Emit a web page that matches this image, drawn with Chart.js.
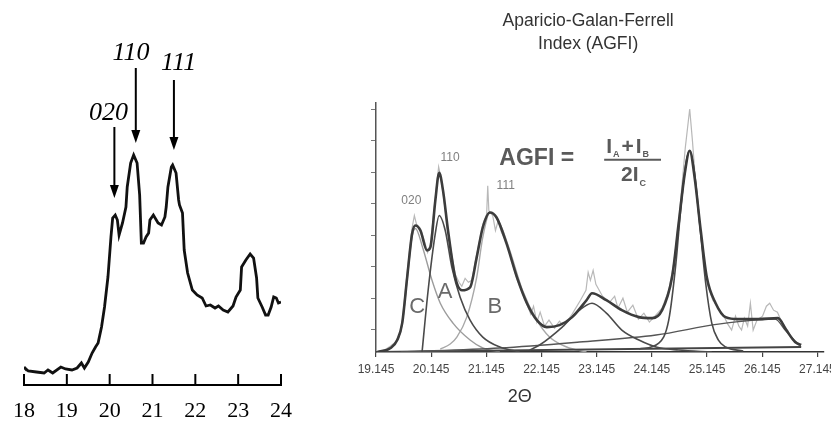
<!DOCTYPE html>
<html>
<head>
<meta charset="utf-8">
<script src="https://cdn.jsdelivr.net/npm/chart.js@4.4.0/dist/chart.umd.min.js"></script>
<style>
  html, body { margin: 0; padding: 0; background: #fff; }
  body { width: 831px; height: 423px; position: relative; overflow: hidden; }
  #leftChart { position: absolute; left: 0; top: 0; }
  #rightChart { position: absolute; left: 330px; top: 0; }
</style>
</head>
<body>
<canvas id="leftChart" width="320" height="423"></canvas>
<canvas id="rightChart" width="511" height="423"></canvas>
<script>
// ---- left pattern (2 theta, intensity in arbitrary units) ----
const leftTicks = [18, 19, 20, 21, 22, 23, 24];
const leftPattern = [
  [18.00, 18], [18.02, 17], [18.10, 14], [18.29, 13], [18.47, 12], [18.56, 15], [18.67, 12],
  [18.86, 18], [18.97, 16], [19.12, 15], [19.24, 17], [19.34, 22], [19.41, 17], [19.50, 23],
  [19.59, 32], [19.67, 38], [19.73, 42], [19.81, 58], [19.88, 78], [19.96, 108], [20.03, 148],
  [20.07, 167], [20.13, 170], [20.18, 165], [20.22, 150], [20.30, 162], [20.38, 178], [20.41, 198],
  [20.49, 222], [20.56, 230], [20.64, 222], [20.70, 190], [20.74, 142], [20.79, 142], [20.85, 148],
  [20.91, 152], [20.94, 165], [21.02, 170], [21.13, 162], [21.21, 160], [21.29, 168], [21.32, 178],
  [21.36, 198], [21.44, 218], [21.47, 220], [21.55, 212], [21.61, 185], [21.63, 180], [21.70, 172],
  [21.74, 135], [21.82, 112], [21.93, 95], [22.04, 90], [22.16, 87], [22.25, 79], [22.35, 80],
  [22.46, 77], [22.54, 79], [22.65, 75], [22.76, 73], [22.88, 79], [22.95, 88], [23.05, 95],
  [23.08, 118], [23.18, 125], [23.28, 131], [23.36, 127], [23.43, 107], [23.46, 87], [23.56, 78],
  [23.64, 70], [23.70, 70], [23.77, 78], [23.83, 88], [23.89, 87], [23.94, 82], [24.00, 83]
];
const leftPeaks = ['020', '110', '111'];
const leftArrowX = [20.11, 20.61, 21.50];
const leftArrowTop = [258, 317, 305];
const leftArrowTip = [187, 242, 235];
const leftLabelX = [19.97, 20.50, 21.61];
const leftLabelY = [272, 332, 322];

// ---- right pattern: raw scan, fitted total and the fitted components ----
const rightTicks = [19.145, 20.145, 21.145, 22.145, 23.145, 24.145, 25.145, 26.145, 27.145];
const rightYTicks = [23, 54, 86, 117, 149, 180, 212, 243];
const rawScan = [
  [19.17, 0], [19.30, 2], [19.41, 6], [19.50, 10], [19.56, 15], [19.62, 30], [19.71, 80], [19.80, 125],
  [19.84, 137], [19.88, 128], [19.95, 124], [20.03, 110], [20.08, 100], [20.13, 108], [20.22, 155],
  [20.28, 186], [20.31, 178], [20.36, 160], [20.45, 120], [20.58, 78], [20.65, 70], [20.70, 66],
  [20.76, 74], [20.82, 70], [20.88, 72], [20.97, 98], [21.08, 128], [21.15, 138], [21.17, 167],
  [21.19, 142], [21.26, 137], [21.31, 122], [21.36, 132], [21.42, 120], [21.51, 110], [21.70, 73],
  [21.88, 48], [21.95, 38], [22.00, 46], [22.06, 30], [22.12, 40], [22.20, 26], [22.28, 32],
  [22.38, 24], [22.47, 31], [22.55, 26], [22.70, 38], [22.85, 52], [22.95, 62], [22.99, 80],
  [23.03, 72], [23.08, 82], [23.13, 68], [23.25, 56], [23.38, 50], [23.47, 56], [23.53, 44],
  [23.62, 54], [23.70, 40], [23.80, 47], [23.90, 33], [24.00, 39], [24.10, 30], [24.20, 36],
  [24.33, 44], [24.45, 62], [24.55, 92], [24.65, 142], [24.75, 205], [24.83, 244], [24.88, 212],
  [24.95, 160], [25.05, 108], [25.15, 68], [25.25, 52], [25.35, 44], [25.45, 36], [25.52, 28],
  [25.59, 22], [25.66, 36], [25.72, 26], [25.77, 22], [25.82, 34], [25.88, 26], [25.93, 49],
  [25.98, 22], [26.05, 32], [26.15, 36], [26.22, 46], [26.28, 49], [26.35, 42], [26.42, 40],
  [26.50, 30], [26.60, 22], [26.70, 12], [26.80, 7], [26.85, 5]
];
const fitTotal = [
  [19.17, 0], [19.41, 4], [19.53, 12], [19.62, 29], [19.71, 75], [19.80, 119], [19.86, 127],
  [19.95, 122], [20.07, 102], [20.13, 105], [20.22, 152], [20.29, 180], [20.36, 162], [20.45, 122],
  [20.58, 75], [20.70, 62], [20.85, 65], [20.97, 95], [21.08, 125], [21.21, 140], [21.33, 135],
  [21.51, 109], [21.70, 75], [21.88, 49], [22.06, 32], [22.24, 25], [22.47, 27], [22.70, 35],
  [22.96, 52], [23.06, 59], [23.32, 52], [23.60, 42], [23.91, 35], [24.15, 34], [24.33, 42],
  [24.51, 75], [24.63, 129], [24.74, 179], [24.83, 202], [24.92, 175], [25.03, 122], [25.14, 75],
  [25.30, 49], [25.48, 35], [25.71, 33], [26.07, 33], [26.43, 34], [26.58, 22], [26.74, 10], [26.85, 7]
];
const peakC = [
  [19.17, 0], [19.41, 4], [19.53, 12], [19.62, 28], [19.71, 73], [19.80, 116], [19.86, 124],
  [19.99, 105], [20.16, 72], [20.31, 49], [20.54, 29], [20.85, 12], [21.08, 4], [21.39, 0]
];
const peakA = [
  [19.98, 0], [20.09, 62], [20.22, 119], [20.29, 137], [20.40, 122], [20.52, 85], [20.67, 55],
  [20.85, 32], [21.08, 15], [21.39, 5], [21.75, 0]
];
const peakB = [
  [20.31, 3], [20.49, 8], [20.61, 15], [20.79, 35], [20.97, 75], [21.08, 115], [21.21, 140],
  [21.39, 129], [21.57, 102], [21.80, 62], [22.06, 32], [22.29, 15], [22.60, 5], [22.96, 0]
];
const peakD = [
  [21.93, 2], [22.11, 7], [22.52, 25], [22.83, 42], [23.06, 49], [23.32, 39], [23.60, 22],
  [23.91, 12], [24.22, 5], [24.63, 2], [25.23, 0]
];
const peakE = [
  [23.91, 3], [24.27, 9], [24.45, 32], [24.58, 89], [24.67, 145], [24.76, 189], [24.83, 202],
  [24.92, 179], [25.01, 129], [25.12, 69], [25.23, 29], [25.35, 12], [25.48, 5], [25.80, 1]
];
const background = [
  [19.59, 0], [21.39, 4], [22.83, 10], [24.22, 17], [25.35, 28], [26.38, 33], [26.56, 22], [26.79, 8]
];
const baseline = [[19.17, 0], [26.85, 5]];

const rightPeaks = ['020', '110', '111'];
const rightPeakX = [19.785, 20.487, 21.496];
const rightPeakY = [152, 195, 167];
const letters = ['C', 'A', 'B'];
const letterX = [19.893, 20.397, 21.298];
const letterY = [45, 60, 45];

const SANS = '"Liberation Sans", Arial, sans-serif';
const SERIF = '"Liberation Serif", "Times New Roman", serif';

function toXY(pts) {
  return pts.map(p => ({ x: p[0], y: p[1] }));
}

// marks on the left pattern: upward ticks, arrows and Miller indices
const leftMarks = {
  id: 'leftMarks',
  afterDraw(chart) {
    const { ctx, scales: { x, y } } = chart;
    ctx.save();
    ctx.strokeStyle = '#000';
    ctx.fillStyle = '#000';
    ctx.lineWidth = 2;
    leftTicks.forEach(v => {
      const px = x.getPixelForValue(v);
      ctx.beginPath();
      ctx.moveTo(px, x.top);
      ctx.lineTo(px, x.top - 11);
      ctx.stroke();
    });
    ctx.font = 'italic 26px ' + SERIF;
    ctx.textAlign = 'center';
    ctx.textBaseline = 'middle';
    leftPeaks.forEach((lab, i) => {
      ctx.fillText(lab, x.getPixelForValue(leftLabelX[i]), y.getPixelForValue(leftLabelY[i]));
      const ax = x.getPixelForValue(leftArrowX[i]);
      const y1 = y.getPixelForValue(leftArrowTop[i]);
      const y2 = y.getPixelForValue(leftArrowTip[i]);
      ctx.beginPath();
      ctx.moveTo(ax, y1);
      ctx.lineTo(ax, y2 - 10);
      ctx.stroke();
      ctx.beginPath();
      ctx.moveTo(ax - 4.5, y2 - 13);
      ctx.lineTo(ax + 4.5, y2 - 13);
      ctx.lineTo(ax, y2);
      ctx.closePath();
      ctx.fill();
    });
    ctx.restore();
  }
};

new Chart(document.getElementById('leftChart'), {
  type: 'line',
  data: {
    datasets: [{
      data: toXY(leftPattern),
      borderColor: '#111',
      borderWidth: 2.8,
      pointRadius: 0,
      tension: 0
    }]
  },
  options: {
    responsive: false,
    animation: false,
    devicePixelRatio: 1,
    layout: { padding: { left: 17, right: 39, top: 20, bottom: 0 } },
    plugins: { legend: { display: false }, tooltip: { enabled: false } },
    scales: {
      x: {
        type: 'linear',
        min: 18,
        max: 24,
        afterBuildTicks: s => { s.ticks = leftTicks.map(v => ({ value: v })); },
        afterFit: s => { s.height = 38; },
        grid: { display: false, drawTicks: false },
        border: { display: true, color: '#000', width: 2 },
        ticks: { color: '#000', padding: 13, font: { family: SERIF, size: 22 }, autoSkip: false, maxRotation: 0 }
      },
      y: { display: false, min: 0, max: 365 }
    }
  },
  plugins: [leftMarks]
});

// text on the right pattern
function drawParts(ctx, parts, x, y) {
  let cx = x;
  parts.forEach(([t, size, dy, gap]) => {
    ctx.font = 'bold ' + size + 'px ' + SANS;
    ctx.fillText(t, cx, y + dy);
    cx += ctx.measureText(t).width + (gap || 0);
  });
}

const rightText = {
  id: 'rightText',
  afterDraw(chart) {
    const { ctx, scales: { x, y } } = chart;
    ctx.save();
    ctx.textBaseline = 'middle';
    ctx.textAlign = 'center';
    ctx.fillStyle = '#333';
    ctx.font = '17.5px ' + SANS;
    ctx.fillText('Aparicio-Galan-Ferrell', x.getPixelForValue(22.99), y.getPixelForValue(332));
    ctx.fillText('Index (AGFI)', x.getPixelForValue(22.99), y.getPixelForValue(309));

    ctx.fillStyle = '#808080';
    ctx.font = '12px ' + SANS;
    rightPeaks.forEach((t, i) => {
      ctx.fillText(t, x.getPixelForValue(rightPeakX[i]), y.getPixelForValue(rightPeakY[i]));
    });
    ctx.fillStyle = '#6a6a6a';
    ctx.font = '22px ' + SANS;
    letters.forEach((t, i) => {
      ctx.fillText(t, x.getPixelForValue(letterX[i]), y.getPixelForValue(letterY[i]));
    });
    ctx.fillStyle = '#333';
    ctx.font = '18px ' + SANS;
    ctx.fillText('2\u0398', x.getPixelForValue(21.75), y.getPixelForValue(-45));

    // AGFI = (IA + IB) / 2IC
    ctx.textAlign = 'left';
    ctx.fillStyle = '#5a5a5a';
    ctx.font = 'bold 23px ' + SANS;
    ctx.fillText('AGFI =', x.getPixelForValue(21.38), y.getPixelForValue(194));
    drawParts(ctx, [['I', 21, 0, 1], ['A', 9, 8, 2], ['+', 21, 0, 2], ['I', 21, 0, 1], ['B', 9, 8, 0]],
      x.getPixelForValue(23.316), y.getPixelForValue(206));
    drawParts(ctx, [['2I', 21, 0, 1], ['C', 9, 9, 0]],
      x.getPixelForValue(23.586), y.getPixelForValue(178));
    ctx.strokeStyle = '#5a5a5a';
    ctx.lineWidth = 2;
    ctx.beginPath();
    ctx.moveTo(x.getPixelForValue(23.28), y.getPixelForValue(193));
    ctx.lineTo(x.getPixelForValue(24.31), y.getPixelForValue(193));
    ctx.stroke();
    ctx.restore();
  }
};

function curve(pts, color, width, smooth) {
  return {
    data: toXY(pts),
    borderColor: color,
    borderWidth: width,
    pointRadius: 0,
    tension: 0,
    cubicInterpolationMode: smooth ? 'monotone' : 'default'
  };
}

new Chart(document.getElementById('rightChart'), {
  type: 'line',
  data: {
    datasets: [
      curve(fitTotal, '#3c3c3c', 2.6, true),
      curve(peakA, '#4a4a4a', 1.6, true),
      curve(peakE, '#4a4a4a', 1.6, true),
      curve(peakD, '#4a4a4a', 1.6, true),
      curve(background, '#555', 1.4, true),
      curve(baseline, '#444', 1.8, false),
      curve(peakC, '#9c9c9c', 1.4, true),
      curve(peakB, '#a8a8a8', 1.4, true),
      curve(rawScan, '#b8b8b8', 1.2, false)
    ]
  },
  options: {
    responsive: false,
    animation: false,
    devicePixelRatio: 1,
    layout: { padding: { left: 40, right: 15, top: 103, bottom: 0 } },
    plugins: { legend: { display: false }, tooltip: { enabled: false } },
    scales: {
      x: {
        type: 'linear',
        min: 19.145,
        max: 27.26,
        afterBuildTicks: s => { s.ticks = rightTicks.map(v => ({ value: v })); },
        afterFit: s => { s.height = 71; },
        grid: { drawOnChartArea: false, drawTicks: true, tickLength: 5, color: '#444', lineWidth: 1.2 },
        border: { display: true, color: '#333', width: 1.6 },
        ticks: {
          color: '#444', padding: 5, autoSkip: false, maxRotation: 0,
          font: { family: SANS, size: 12 },
          callback: v => v.toFixed(3)
        }
      },
      y: {
        min: 0,
        max: 250,
        afterBuildTicks: s => { s.ticks = rightYTicks.map(v => ({ value: v })); },
        afterFit: s => { s.width = 6; },
        grid: { drawOnChartArea: false, drawTicks: true, tickLength: 5, color: '#777' },
        border: { display: true, color: '#555', width: 1.5 },
        ticks: { display: false }
      }
    }
  },
  plugins: [rightText]
});
</script>
</body>
</html>
